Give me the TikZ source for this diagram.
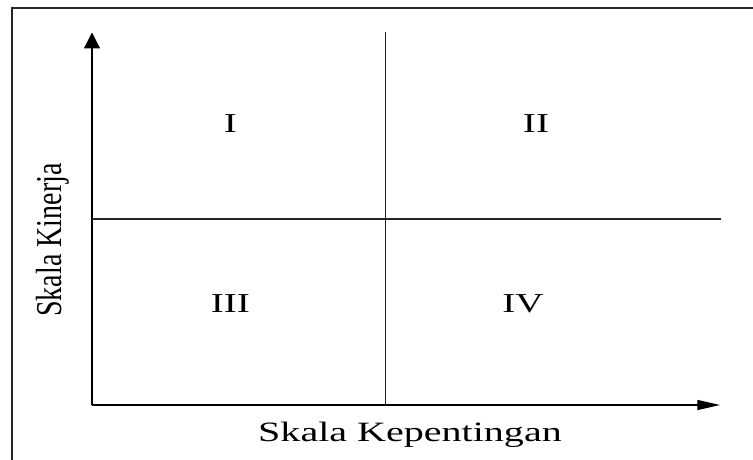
\documentclass[tikz,border=0pt]{standalone}
\usepackage{fontspec}
\setmainfont{Liberation Serif}
\usetikzlibrary{arrows.meta}
\begin{document}
\begin{tikzpicture}[x=0.75pt,y=-0.75pt,
  axis/.style={line width=0.9pt,draw=black},
  divider/.style={line width=0.9pt,draw=black!85},
  frameline/.style={line width=1pt,draw=black!85},
  quad/.style={font=\fontsize{20.5pt}{24pt}\selectfont,anchor=base,inner sep=0pt},
  axlabel/.style={font=\fontsize{21pt}{24pt}\selectfont,anchor=base,inner sep=0pt}]
\useasboundingbox (0,0) rectangle (753,460);
% frame
\coordinate (ftr) at (753,8);
\coordinate (ftl) at (12,8);
\coordinate (fbl) at (12,460);
\draw[frameline] (ftr) -- (ftl) -- (fbl);
% axes
\coordinate (o) at (92,405);
\coordinate (ytop) at (92,32.5);
\coordinate (xend) at (720,405);
\draw[axis,-{Triangle[length=12pt,width=12pt]}] (o) -- (ytop);
\draw[axis,-{Triangle[length=17pt,width=7.5pt]}] (o) -- (xend);
% dividers
\coordinate (vtop) at (385.5,32.5);
\coordinate (vbot) at (385.5,405);
\coordinate (hl) at (92,219);
\coordinate (hr) at (721,219);
\draw[divider] (vtop) -- (vbot);
\draw[divider] (hl) -- (hr);
% quadrant labels
\node[quad] (q1) at (230.3,132.3) {\scalebox{1.43}[1]{I}};
\node[quad] (q2) at (536,132.3) {\scalebox{1.43}[1]{II}};
\node[quad] (q3) at (230.3,312.7) {\scalebox{1.43}[1]{III}};
\node[quad] (q4) at (523,312.7) {\scalebox{1.43}[1]{IV}};
% axis labels
\node[axlabel] (xl) at (410,441) {\scalebox{1.43}[1]{Skala Kepentingan}};
\node[axlabel,rotate=90] (yl) at (61,240) {\scalebox{1}[1.3]{Skala Kinerja}};
\end{tikzpicture}
\end{document}
